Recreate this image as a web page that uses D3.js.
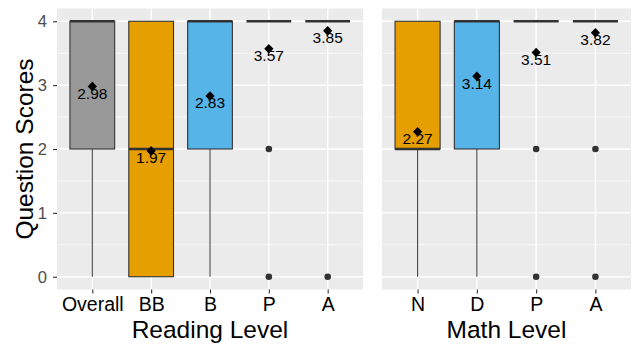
<!DOCTYPE html>
<html>
<head>
<meta charset="utf-8">
<script src="https://cdn.jsdelivr.net/npm/d3@7"></script>
<style>
  body { margin: 0; background: #fff; }
  text { font-family: "Liberation Sans", Arial, sans-serif; }
</style>
</head>
<body>
<svg id="mainSVG" width="632" height="345"></svg>
<script>
// reading panel
var readingLevels = ["Overall", "BB", "B", "P", "A"];
var readingQ1 = [2, 0, 2, 4, 4];
var readingMed = [4, 2, 4, 4, 4];
var readingQ3 = [4, 4, 4, 4, 4];
var readingLow = [0, 0, 0, 4, 4];
var readingOut = [[], [], [], [2, 0], [0]];
var readingMean = [2.98, 1.97, 2.83, 3.57, 3.85];

// math panel
var mathLevels = ["N", "D", "P", "A"];
var mathQ1 = [2, 2, 4, 4];
var mathMed = [2, 4, 4, 4];
var mathQ3 = [4, 4, 4, 4];
var mathLow = [0, 0, 4, 4];
var mathOut = [[], [], [2, 0], [2, 0]];
var mathMean = [2.27, 3.14, 3.51, 3.82];

var yTicks = [0, 1, 2, 3, 4];
var yMinor = [0.5, 1.5, 2.5, 3.5];

// fill per category
var fills = {
    "Overall": "#999999", "BB": "#E69F00", "B": "#56B4E9", "P": "#009E73", "A": "#F0E442",
    "N": "#E69F00", "D": "#56B4E9"
};

var svg = d3.select("#mainSVG");
var top0 = 8.5, bottom0 = 289.5;

var y = d3.scaleLinear().domain([-0.2, 4.2]).range([bottom0, top0]);

// draw one facet panel
function drawPanel(x0, x1, levels, q1, med, q3, low, outs, means, title) {
    var x = d3.scalePoint().domain(levels).range([x0, x1]).padding(0.6);
    var boxW = x.step() * 0.76;

    var g = svg.append("g");

    g.append("rect")
        .attr("x", x0).attr("y", top0)
        .attr("width", x1 - x0).attr("height", bottom0 - top0)
        .attr("fill", "#EBEBEB");

    // minor grid
    g.selectAll(".minor").data(yMinor).enter().append("line")
        .attr("x1", x0).attr("x2", x1)
        .attr("y1", function(d) { return y(d); }).attr("y2", function(d) { return y(d); })
        .attr("stroke", "#fff").attr("stroke-width", 0.7);
    // major grid
    g.selectAll(".majorY").data(yTicks).enter().append("line")
        .attr("x1", x0).attr("x2", x1)
        .attr("y1", function(d) { return y(d); }).attr("y2", function(d) { return y(d); })
        .attr("stroke", "#fff").attr("stroke-width", 1.4);
    g.selectAll(".majorX").data(levels).enter().append("line")
        .attr("x1", function(d) { return x(d); }).attr("x2", function(d) { return x(d); })
        .attr("y1", top0).attr("y2", bottom0)
        .attr("stroke", "#fff").attr("stroke-width", 1.4);

    var idx = d3.range(levels.length);

    // whiskers
    g.selectAll(".whisk").data(idx).enter().append("line")
        .attr("x1", function(i) { return x(levels[i]); }).attr("x2", function(i) { return x(levels[i]); })
        .attr("y1", function(i) { return y(q1[i]); }).attr("y2", function(i) { return y(low[i]); })
        .attr("stroke", "#444").attr("stroke-width", 1.1);

    // boxes
    g.selectAll(".box").data(idx.filter(function(i) { return q3[i] > q1[i]; })).enter().append("rect")
        .attr("x", function(i) { return x(levels[i]) - boxW / 2; })
        .attr("y", function(i) { return y(q3[i]); })
        .attr("width", boxW)
        .attr("height", function(i) { return y(q1[i]) - y(q3[i]); })
        .attr("fill", function(i) { return fills[levels[i]]; })
        .attr("stroke", "#333").attr("stroke-width", 1.1);

    // medians
    g.selectAll(".med").data(idx).enter().append("line")
        .attr("x1", function(i) { return x(levels[i]) - boxW / 2; })
        .attr("x2", function(i) { return x(levels[i]) + boxW / 2; })
        .attr("y1", function(i) { return y(med[i]); }).attr("y2", function(i) { return y(med[i]); })
        .attr("stroke", "#333").attr("stroke-width", 2.4);

    // outliers
    idx.forEach(function(i) {
        g.selectAll(null).data(outs[i]).enter().append("circle")
            .attr("cx", x(levels[i])).attr("cy", function(d) { return y(d); })
            .attr("r", 3.3).attr("fill", "#333");
    });

    // mean diamonds
    g.selectAll(".mean").data(idx).enter().append("path")
        .attr("transform", function(i) { return "translate(" + x(levels[i]) + "," + y(means[i]) + ")"; })
        .attr("d", "M0,-4.8L4.6,0L0,4.8L-4.6,0Z")
        .attr("fill", "#000");

    g.selectAll(".meanLab").data(idx).enter().append("text")
        .attr("x", function(i) { return x(levels[i]); })
        .attr("y", function(i) { return y(means[i]) + 12.5; })
        .attr("text-anchor", "middle")
        .attr("font-size", 15.5)
        .attr("fill", "#000")
        .text(function(i) { return means[i].toFixed(2); });

    // x axis
    var ax = g.append("g")
        .attr("transform", "translate(0," + bottom0 + ")")
        .call(d3.axisBottom(x).tickSize(4).tickPadding(4));
    ax.select(".domain").remove();
    ax.selectAll(".tick line").attr("stroke", "#333").attr("stroke-width", 1.1);
    ax.selectAll(".tick text").attr("font-size", 19.5).attr("fill", "#000")
        .attr("font-family", "Liberation Sans, Arial, sans-serif");

    g.append("text")
        .attr("x", (x0 + x1) / 2).attr("y", 338)
        .attr("text-anchor", "middle")
        .attr("font-size", 24.5)
        .attr("fill", "#000")
        .text(title);
}

drawPanel(57, 363, readingLevels, readingQ1, readingMed, readingQ3, readingLow, readingOut, readingMean, "Reading Level");
drawPanel(382, 631, mathLevels, mathQ1, mathMed, mathQ3, mathLow, mathOut, mathMean, "Math Level");

// y axis
var ay = svg.append("g")
    .attr("transform", "translate(57,0)")
    .call(d3.axisLeft(y).tickValues(yTicks).tickFormat(d3.format("d")).tickSize(4).tickPadding(6));
ay.select(".domain").remove();
ay.selectAll(".tick line").attr("stroke", "#333").attr("stroke-width", 1.1);
ay.selectAll(".tick text").attr("font-size", 16.5).attr("fill", "#4D4D4D")
    .attr("font-family", "Liberation Sans, Arial, sans-serif");

svg.append("text")
    .attr("transform", "translate(33," + ((top0 + bottom0) / 2) + ") rotate(-90)")
    .attr("text-anchor", "middle")
    .attr("font-size", 24.5)
    .attr("fill", "#000")
    .text("Question Scores");
</script>
</body>
</html>
